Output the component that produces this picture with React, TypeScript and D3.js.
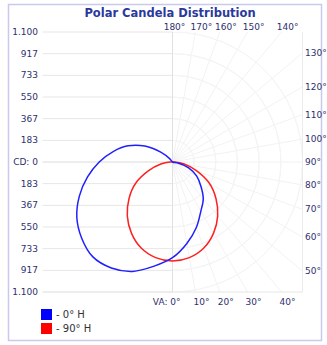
import React from 'react';
import * as d3 from 'd3';

// candela ticks (both directions from the centre)
const cdTicks = [0, 183, 367, 550, 733, 917, 1100];
const cdLabels = ['CD: 0', '183', '367', '550', '733', '917', '1.100'];

// vertical angles
const bottomAngles = [0, 10, 20, 30, 40];
const topAngles = [180, 170, 160, 150, 140];
const rightAngles = [130, 120, 110, 100, 90, 80, 70, 60, 50];

// 0° H plane: left side (C0) and right side (C180), angle from nadir -> cd
const blueLeftAngles = [0, 10, 20, 30, 40, 50, 60, 70, 80, 90, 100, 110, 120, 130, 140, 150];
const blueLeftValues = [810, 895, 985, 1035, 1048, 1003, 935, 838, 730, 620, 510, 400, 270, 130, 35, 0];
const blueRightAngles = [0, 10, 20, 30, 40, 50, 60, 70, 80, 90];
const blueRightValues = [810, 700, 590, 480, 405, 312, 235, 145, 40, 0];

// 90° H plane (symmetric)
const redAngles = [0, 10, 20, 30, 40, 50, 60, 70, 80, 90];
const redValues = [838, 822, 775, 695, 595, 480, 360, 215, 100, 20];

const W = 327;
const H = 345;
const cx = 172.5;
const cy = 162;
const half = 130;

const rScale = d3.scaleLinear().domain([0, 1100]).range([0, half]);

const toRad = (deg: number) => (deg * Math.PI) / 180;

// point in screen space: side = 1 right, -1 left
const pt = (deg: number, v: number, side: number): [number, number] => {
  const r = rScale(v);
  return [cx + side * r * Math.sin(toRad(deg)), cy + r * Math.cos(toRad(deg))];
};

const buildBlue = () => {
  const pts: [number, number][] = [];
  blueRightAngles.forEach((a, i) => pts.push(pt(a, blueRightValues[i], 1)));
  for (let i = blueLeftAngles.length - 2; i >= 1; i--) {
    pts.push(pt(blueLeftAngles[i], blueLeftValues[i], -1));
  }
  return pts;
};

const buildRed = () => {
  const pts: [number, number][] = [];
  redAngles.forEach((a, i) => pts.push(pt(a, redValues[i], 1)));
  for (let i = redAngles.length - 1; i >= 1; i--) {
    pts.push(pt(redAngles[i], redValues[i], -1));
  }
  return pts;
};

const line = d3.line<[number, number]>().curve(d3.curveCatmullRomClosed.alpha(0.5));

// where a ray from centre at angle (from nadir, right side) hits the square
const edge = (deg: number): [number, number] => {
  const s = Math.sin(toRad(deg));
  const c = Math.cos(toRad(deg));
  const t = half / Math.max(Math.abs(s), Math.abs(c));
  return [cx + s * t, cy + c * t];
};

const labelColor = '#2f2f6e';
const font = 'Tahoma, "DejaVu Sans", sans-serif';

export default function App() {
  const left = cx - half;
  const right = cx + half;
  const top = cy - half;
  const bottom = cy + half;

  return (
    <svg width={W} height={H} style={{ position: 'absolute', left: 0, top: 0 }}>
      <rect x={0} y={0} width={W} height={H} fill="#fff" />
      {/* outer frame */}
      <rect x={8.5} y={4.5} width={313} height={336} fill="none" stroke="#c9c9ee" strokeWidth={1.5} />

      <defs>
        <clipPath id="sq">
          <rect x={left} y={top} width={half * 2} height={half * 2} />
        </clipPath>
      </defs>

      {/* left half horizontal grid */}
      {cdTicks.flatMap((v) => [cy - rScale(v), cy + rScale(v)]).map((y, i) => (
        <line key={'h' + i} x1={left} x2={cx} y1={y} y2={y} stroke="#e6e6e6" strokeWidth={1} />
      ))}

      {/* right half radial grid + arcs */}
      <g clipPath="url(#sq)">
        {d3.range(10, 180, 10).map((a) => {
          const [x2, y2] = edge(a);
          return <line key={'r' + a} x1={cx} y1={cy} x2={x2} y2={y2} stroke="#f2f2f2" strokeWidth={1} />;
        })}
        {cdTicks.slice(1).map((v) => (
          <path
            key={'a' + v}
            d={d3.arc()({ innerRadius: rScale(v), outerRadius: rScale(v), startAngle: 0, endAngle: Math.PI }) || ''}
            transform={`translate(${cx},${cy})`}
            fill="none"
            stroke="#f4f4f4"
          />
        ))}
      </g>

      {/* centre line and plot border */}
      <line x1={cx} x2={cx} y1={top} y2={bottom} stroke="#e0e0e0" />
      <line x1={left} x2={right} y1={bottom} y2={bottom} stroke="#e6e6e6" />
      <line x1={right} x2={right} y1={top} y2={bottom} stroke="#ebebeb" />

      {/* curves */}
      <path d={line(buildRed()) || ''} fill="none" stroke="#ff2020" strokeWidth={1.5} />
      <path d={line(buildBlue()) || ''} fill="none" stroke="#2020ff" strokeWidth={1.5} />

      {/* title */}
      <text x={170} y={17} textAnchor="middle" fontFamily={font} fontWeight="bold" fontSize={11.5} fill="#2a3a9c">
        Polar Candela Distribution
      </text>

      {/* left labels */}
      {cdTicks.map((v, i) => (
        <g key={'l' + v}>
          <text x={38} y={cy - rScale(v) + 3} textAnchor="end" fontFamily={font} fontSize={9} fill={labelColor}>
            {cdLabels[i]}
          </text>
          {v > 0 && (
            <text x={38} y={cy + rScale(v) + 3} textAnchor="end" fontFamily={font} fontSize={9} fill={labelColor}>
              {cdLabels[i]}
            </text>
          )}
        </g>
      ))}

      {/* top labels */}
      {topAngles.map((a) => (
        <text key={'t' + a} x={edge(a)[0] + (a === 180 ? 2 : 6)} y={30} textAnchor="middle" fontFamily={font} fontSize={9} fill={labelColor}>
          {a}°
        </text>
      ))}

      {/* bottom labels */}
      {bottomAngles.map((a) => (
        <text key={'b' + a} x={edge(a)[0] + (a === 0 ? 8 : 6)} y={305} textAnchor={a === 0 ? 'end' : 'middle'} fontFamily={font} fontSize={9} fill={labelColor}>
          {a === 0 ? 'VA: 0°' : a + '°'}
        </text>
      ))}

      {/* right labels */}
      {rightAngles.map((a) => (
        <text key={'rt' + a} x={305} y={edge(a)[1] + 3} fontFamily={font} fontSize={9} fill={labelColor}>
          {a}°
        </text>
      ))}

      {/* legend */}
      <rect x={41} y={309} width={11} height={11} fill="#0000ff" />
      <text x={56} y={318} fontFamily={font} fontSize={10} fill="#333">- 0° H</text>
      <rect x={41} y={323} width={11} height={11} fill="#ff0000" />
      <text x={56} y={332} fontFamily={font} fontSize={10} fill="#333">- 90° H</text>
    </svg>
  );
}
